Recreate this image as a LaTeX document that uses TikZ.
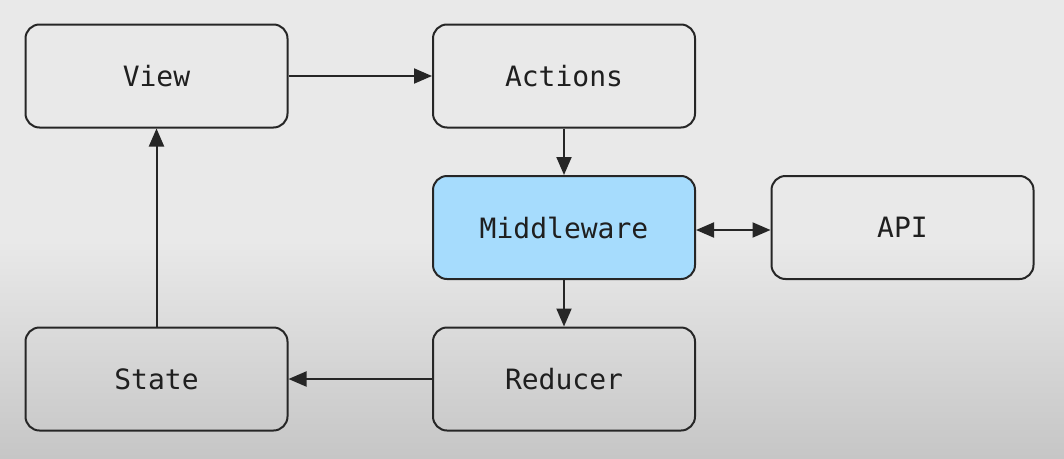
\documentclass[tikz,border=0pt]{standalone}
\usepackage{fontspec}
\setmonofont{DejaVu Sans Mono}
\usetikzlibrary{arrows.meta}
\definecolor{bgtop}{HTML}{E9E9E9}
\definecolor{bgbot}{HTML}{C6C6C6}
\definecolor{edge}{HTML}{262626}
\definecolor{mw}{HTML}{A6DCFD}
\tikzset{
  box/.style={draw=edge, line width=2pt, rounded corners=14pt, minimum width=262pt, minimum height=103pt, inner sep=0pt, font=\ttfamily\fontsize{28}{31}\selectfont, text=black!88},
  conn/.style={draw=edge, line width=2pt, -{Triangle[length=18pt,width=15pt]}},
  bconn/.style={draw=edge, line width=2pt, {Triangle[length=18pt,width=15pt]}-{Triangle[length=18pt,width=15pt]}}
}
\begin{document}
\begin{tikzpicture}[x=1pt,y=-1pt]
\useasboundingbox (0,0) rectangle (1064,458);
\fill[bgtop] (0,0) rectangle (1064,458);
\shade[top color=bgtop, bottom color=bgbot] (0,240) rectangle (1064,458);
\node[box] (view) at (156.5,76) {View};
\node[box] (actions) at (564,76) {Actions};
\node[box, fill=mw] (mid) at (564,227.5) {Middleware};
\node[box] (api) at (902.5,227.5) {API};
\node[box] (state) at (156.5,379) {State};
\node[box] (red) at (564,379) {Reducer};
\draw[conn] (view) -- (actions);
\draw[conn] (actions) -- (mid);
\draw[bconn] (mid.east |- 0,230) -- (api.west |- 0,230);
\draw[conn] (mid) -- (red);
\draw[conn] (red) -- (state);
\draw[conn] (state) -- (view);
\end{tikzpicture}
\end{document}
